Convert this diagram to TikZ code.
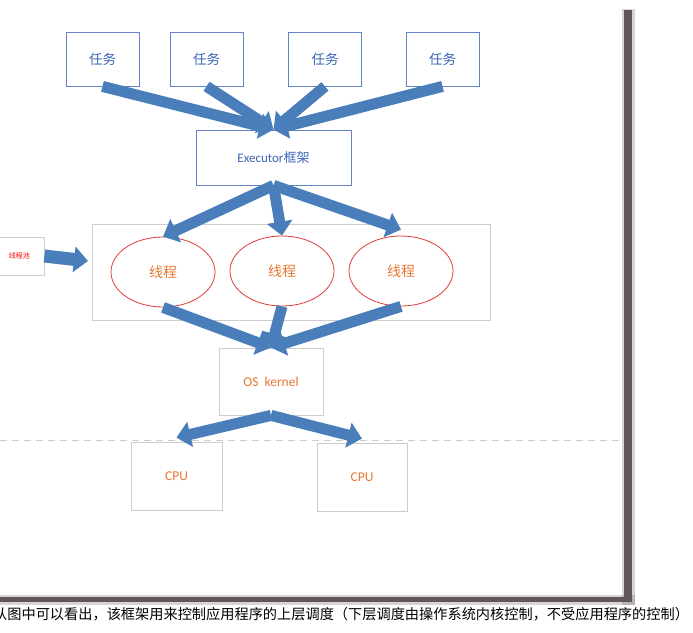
\documentclass[tikz,border=0pt]{standalone}
\usepackage{fontspec}
\setmainfont{Carlito}
\newfontfamily\cjk{Noto Sans CJK SC}
\usetikzlibrary{arrows.meta,shapes.geometric}
\definecolor{arrblue}{RGB}{74,126,187}
\definecolor{boxblue}{RGB}{100,130,200}
\definecolor{txtblue}{RGB}{60,100,185}
\definecolor{lgray}{RGB}{205,205,205}
\definecolor{elred}{RGB}{225,60,60}
\definecolor{txtorange}{RGB}{232,120,50}
\definecolor{shadowc}{RGB}{97,87,90}
\tikzset{
  taskbox/.style={draw=boxblue,line width=0.8pt,minimum width=73pt,minimum height=54pt,inner sep=0pt,text=txtblue,font=\cjk\fontsize{13.5}{14}\selectfont},
  graybox/.style={draw=lgray,line width=0.8pt,inner sep=0pt,text=txtorange,font=\fontsize{13.5}{14}\selectfont},
  thread/.style={ellipse,draw=elred,line width=0.8pt,minimum width=104pt,minimum height=70pt,inner sep=0pt,text=txtorange,font=\cjk\fontsize{14}{15}\selectfont},
  blockarrow/.style={draw=arrblue,line width=11pt,-{Triangle[width=25pt,length=14pt]}}
}
\begin{document}
\begin{tikzpicture}[x=1pt,y=-1pt]
\useasboundingbox (0,0) rectangle (693,632);
\clip (0,0) rectangle (693,632);
\fill[white] (0,0) rectangle (693,632);
% frame shadow
\fill[shadowc,opacity=0.25] (622,9) rectangle (635,605);
\fill[shadowc,opacity=0.25] (0,595) rectangle (635,605);
\fill[shadowc] (624,10) rectangle (632,602);
\fill[shadowc] (0,597) rectangle (632,602);
% dashed separator
\draw[lgray,line width=0.9pt,dash pattern=on 7pt off 5pt] (0,440) -- (623,440);
% nodes
\node[taskbox] (t1) at (102.5,59) {任务};
\node[taskbox] (t2) at (206.5,59) {任务};
\node[taskbox] (t3) at (325,59) {任务};
\node[taskbox] (t4) at (442.5,59) {任务};
\node[taskbox,minimum width=155pt,minimum height=55pt,font=\fontsize{13}{14}\selectfont] (ex) at (273.5,157.5) {Executor{\cjk 框架}};
\node[graybox,minimum width=398pt,minimum height=96pt] (pool) at (291,272) {};
\node[thread] (e1) at (163,272) {线程};
\node[thread] (e2) at (282,271) {线程};
\node[thread] (e3) at (401,271) {线程};
\node[graybox,minimum width=49pt,minimum height=38pt,text=red,font=\cjk\fontsize{7}{8}\selectfont] (pl) at (19.5,256) {线程池};
\coordinate (plend) at (88,261);
\node[graybox,minimum width=104pt,minimum height=67pt] (os) at (271,381.5) {OS\ \ kernel};
\node[graybox,minimum width=91pt,minimum height=68pt] (c1) at (176.5,476) {CPU};
\node[graybox,minimum width=90pt,minimum height=68pt] (c2) at (362,477) {CPU};
% arrows
\draw[blockarrow] (t1.south) -- (ex.north);
\draw[blockarrow] (t2.south) -- (ex.north);
\draw[blockarrow] (t3.south) -- (ex.north);
\draw[blockarrow] (t4.south) -- (ex.north);
\draw[blockarrow] (ex.south) -- (e1.north);
\draw[blockarrow] (ex.south) -- (e2.north);
\draw[blockarrow] (ex.south) -- ([yshift=6pt]e3.north);
\draw[blockarrow,line width=13pt] (pl.east) -- (plend);
\draw[blockarrow] (e1.south) -- (os.north);
\draw[blockarrow] (e2.south) -- (os.north);
\draw[blockarrow] (e3.south) -- (os.north);
\draw[blockarrow] (os.south) -- ([yshift=4pt]c1.north);
\draw[blockarrow] (os.south) -- ([yshift=4pt]c2.north);
% caption
\node[anchor=west,inner sep=0pt,font=\cjk\fontsize{14.2}{15}\selectfont] (cap) at (-7,614) {从图中可以看出，该框架用来控制应用程序的上层调度（下层调度由操作系统内核控制，不受应用程序的控制）};
\end{tikzpicture}
\end{document}
